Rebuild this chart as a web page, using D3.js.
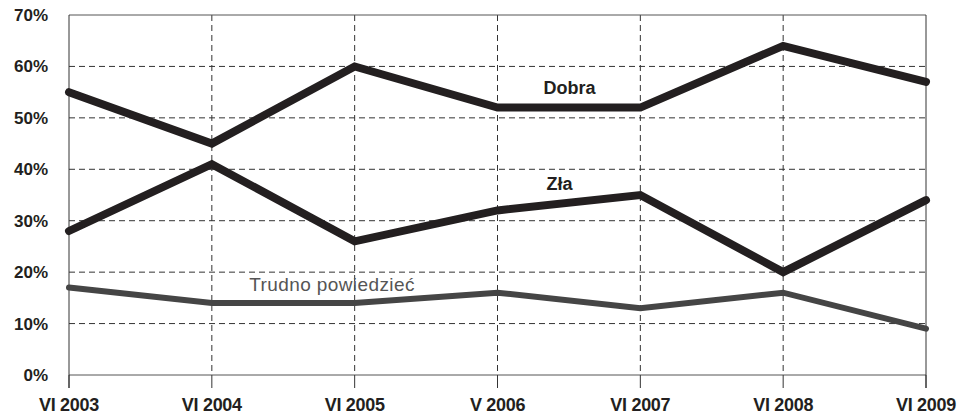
<!DOCTYPE html>
<html><head><meta charset="utf-8">
<script src="https://cdn.jsdelivr.net/npm/d3@7"></script>
<style>body{margin:0;background:#fff}svg{display:block}</style>
</head><body>
<svg id="c" width="957" height="416"></svg>
<script>
const categories = ["VI 2003","VI 2004","VI 2005","V 2006","VI 2007","VI 2008","VI 2009"];
const dobra = [55,45,60,52,52,64,57];
const zla = [28,41,26,32,35,20,34];
const trudno = [17,14,14,16,13,16,9];
const yTicks = [0,10,20,30,40,50,60,70];

const svg = d3.select("#c");
const L=69, R=926, T=15, B=375;
const x = d3.scalePoint().domain(categories).range([L,R]);
const y = d3.scaleLinear().domain([0,70]).range([B,T]);
const font = "Arial, 'Liberation Sans', sans-serif";

// horizontal dashed grid
svg.append("g").selectAll("line").data(yTicks.filter(d=>d>0&&d<70)).join("line")
  .attr("x1",L).attr("x2",R).attr("y1",d=>y(d)).attr("y2",d=>y(d))
  .attr("stroke","#333").attr("stroke-width",1).attr("stroke-dasharray","6,4");
// vertical dashed grid
svg.append("g").selectAll("line").data(categories.slice(1,-1)).join("line")
  .attr("x1",d=>x(d)).attr("x2",d=>x(d)).attr("y1",T).attr("y2",B)
  .attr("stroke","#333").attr("stroke-width",1).attr("stroke-dasharray","6,4");
// frame
svg.append("line").attr("x1",L).attr("x2",R).attr("y1",T).attr("y2",T).attr("stroke","#555");
svg.append("line").attr("x1",L).attr("x2",R).attr("y1",B).attr("y2",B).attr("stroke","#555");
svg.append("line").attr("x1",L).attr("x2",L).attr("y1",T).attr("y2",B+13).attr("stroke","#333");
svg.append("line").attr("x1",R).attr("x2",R).attr("y1",T).attr("y2",B+13).attr("stroke","#333");
// bottom ticks
svg.append("g").selectAll("line").data(categories).join("line")
  .attr("x1",d=>x(d)).attr("x2",d=>x(d)).attr("y1",B).attr("y2",B+13).attr("stroke","#333");

// y labels
svg.append("g").selectAll("text").data(yTicks).join("text")
  .attr("x",48).attr("y",d=>y(d)+6).attr("text-anchor","end")
  .attr("font-family",font).attr("font-size",17).attr("font-weight","bold").attr("fill","#231f20")
  .text(d=>d+"%");
// x labels
svg.append("g").selectAll("text").data(categories).join("text")
  .attr("x",d=>x(d)).attr("y",411).attr("text-anchor","middle")
  .attr("font-family",font).attr("font-size",18).attr("font-weight","bold").attr("fill","#231f20")
  .attr("letter-spacing","-0.3")
  .text(d=>d);

const line = d3.line().x((d,i)=>x(categories[i])).y(d=>y(d));
function series(data,color,w){
  svg.append("path").datum(data).attr("d",line).attr("fill","none")
    .attr("stroke",color).attr("stroke-width",w).attr("stroke-linejoin","miter").attr("stroke-linecap","round");
}
series(trudno,"#454545",6);
series(zla,"#231f20",8);
series(dobra,"#231f20",8);

svg.append("text").attr("x",x(categories[3])+72).attr("y",94).attr("text-anchor","middle")
  .attr("font-family",font).attr("font-size",18).attr("font-weight","bold").attr("fill","#231f20").text("Dobra");
svg.append("text").attr("x",x(categories[3])+62).attr("y",190).attr("text-anchor","middle")
  .attr("font-family",font).attr("font-size",18).attr("font-weight","bold").attr("fill","#231f20").text("Zła");
svg.append("text").attr("x",332).attr("y",291).attr("text-anchor","middle")
  .attr("font-family",font).attr("font-size",19).attr("letter-spacing","0.4").attr("fill","#555").text("Trudno powiedzieć");
</script>
</body></html>
